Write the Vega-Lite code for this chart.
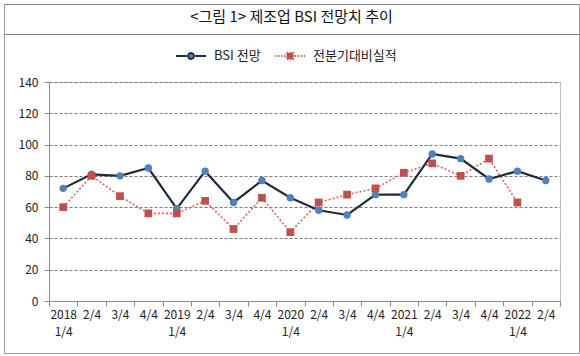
{
  "$schema": "https://vega.github.io/schema/vega-lite/v6.json",
  "padding": {"left": 3, "top": 3, "right": 2, "bottom": 4},
  "background": "white",
  "bounds": "flush",
  "spacing": 48,
  "config": {
    "font": "Noto Sans CJK KR"
  },
  "vconcat": [
    {
      "width": 575,
      "height": 30,
      "view": {"stroke": "#808080"},
      "title": {"text": "<그림 1> 제조업 BSI 전망치 추이", "fontSize": 15, "fontWeight": "normal", "color": "#111111", "anchor": "middle", "frame": "group", "offset": -21},
      "data": {"values": [{"a": 1}]},
      "encoding": {
        "x": {"datum": 0, "type": "quantitative", "scale": {"domain": [0, 1]},
          "axis": {"orient": "bottom", "offset": 319, "ticks": false, "labels": false, "grid": false, "title": null, "domainColor": "#9a9a9a"}},
        "y": {"datum": 0, "type": "quantitative", "scale": {"domain": [0, 1], "range": [349, 0]}}
      },
      "layer": [
        {
          "mark": {"type": "text"},
          "encoding": {
            "text": {"value": ""},
            "y": {"datum": 0, "type": "quantitative", "axis": {"orient": "left", "ticks": false, "labels": false, "grid": false, "title": null, "domainColor": "#9a9a9a"}}
          }
        },
        {
          "mark": {"type": "text"},
          "encoding": {
            "text": {"value": ""},
            "y": {"datum": 0, "type": "quantitative", "axis": {"orient": "right", "ticks": false, "labels": false, "grid": false, "title": null, "domainColor": "#9a9a9a"}}
          }
        }
      ],
      "resolve": {"axis": {"y": "independent"}}
    },
    {
      "bounds": "flush",
      "spacing": 0,
      "hconcat": [
        {
          "width": 45,
          "height": 219,
          "view": {"stroke": null},
          "data": {"values": [{"a": 1}]},
          "mark": {"type": "text"},
          "encoding": {"text": {"value": ""}}
        },
        {
          "width": 511,
          "height": 219,
          "view": {"stroke": "#c0c0c0"},
          "data": {
            "values": [
              {"q": "2018 1/4", "s": "BSI 전망", "v": 72},
              {"q": "2018 2/4", "s": "BSI 전망", "v": 81},
              {"q": "2018 3/4", "s": "BSI 전망", "v": 80},
              {"q": "2018 4/4", "s": "BSI 전망", "v": 85},
              {"q": "2019 1/4", "s": "BSI 전망", "v": 59},
              {"q": "2019 2/4", "s": "BSI 전망", "v": 83},
              {"q": "2019 3/4", "s": "BSI 전망", "v": 63},
              {"q": "2019 4/4", "s": "BSI 전망", "v": 77},
              {"q": "2020 1/4", "s": "BSI 전망", "v": 66},
              {"q": "2020 2/4", "s": "BSI 전망", "v": 58},
              {"q": "2020 3/4", "s": "BSI 전망", "v": 55},
              {"q": "2020 4/4", "s": "BSI 전망", "v": 68},
              {"q": "2021 1/4", "s": "BSI 전망", "v": 68},
              {"q": "2021 2/4", "s": "BSI 전망", "v": 94},
              {"q": "2021 3/4", "s": "BSI 전망", "v": 91},
              {"q": "2021 4/4", "s": "BSI 전망", "v": 78},
              {"q": "2022 1/4", "s": "BSI 전망", "v": 83},
              {"q": "2022 2/4", "s": "BSI 전망", "v": 77},
              {"q": "2018 1/4", "s": "전분기대비실적", "v": 60},
              {"q": "2018 2/4", "s": "전분기대비실적", "v": 80},
              {"q": "2018 3/4", "s": "전분기대비실적", "v": 67},
              {"q": "2018 4/4", "s": "전분기대비실적", "v": 56},
              {"q": "2019 1/4", "s": "전분기대비실적", "v": 56},
              {"q": "2019 2/4", "s": "전분기대비실적", "v": 64},
              {"q": "2019 3/4", "s": "전분기대비실적", "v": 46},
              {"q": "2019 4/4", "s": "전분기대비실적", "v": 66},
              {"q": "2020 1/4", "s": "전분기대비실적", "v": 44},
              {"q": "2020 2/4", "s": "전분기대비실적", "v": 63},
              {"q": "2020 3/4", "s": "전분기대비실적", "v": 68},
              {"q": "2020 4/4", "s": "전분기대비실적", "v": 72},
              {"q": "2021 1/4", "s": "전분기대비실적", "v": 82},
              {"q": "2021 2/4", "s": "전분기대비실적", "v": 88},
              {"q": "2021 3/4", "s": "전분기대비실적", "v": 80},
              {"q": "2021 4/4", "s": "전분기대비실적", "v": 91},
              {"q": "2022 1/4", "s": "전분기대비실적", "v": 63}
            ]
          },
          "encoding": {
            "x": {
              "field": "q",
              "type": "ordinal",
              "sort": null,
              "scale": {"type": "band", "paddingInner": 0, "paddingOuter": 0},
              "axis": {
                "title": null,
                "labelAngle": 0,
                "tickBand": "extent",
                "tickSize": 5,
                "tickColor": "#8a8a8a",
                "domainColor": "#8a8a8a",
                "labelFontSize": 12,
                "labelColor": "#222222",
                "labelPadding": 3,
                "labelLineHeight": 17,
                "labelOverlap": false,
                "labelExpr": "split(datum.value, ' ')[1] == '1/4' ? split(datum.value, ' ') : split(datum.value, ' ')[1]"
              }
            },
            "y": {
              "field": "v",
              "type": "quantitative",
              "scale": {"domain": [0, 140]},
              "axis": {
                "title": null,
                "values": [0, 20, 40, 60, 80, 100, 120, 140],
                "gridDash": [3, 2],
                "gridColor": "#7a7a7a",
                "tickSize": 5,
                "tickColor": "#8a8a8a",
                "domainColor": "#8a8a8a",
                "labelFontSize": 12,
                "labelColor": "#222222",
                "labelPadding": 6
              }
            }
          },
          "layer": [
            {
              "transform": [{"filter": "datum.s == '전분기대비실적'"}],
              "mark": {"type": "line", "color": "#dd6460", "strokeWidth": 1.6, "strokeDash": [2, 2]}
            },
            {
              "transform": [{"filter": "datum.s == 'BSI 전망'"}],
              "mark": {"type": "line", "color": "#1f2b3d", "strokeWidth": 2.2}
            },
            {
              "transform": [{"filter": "datum.s == 'BSI 전망'"}],
              "mark": {"type": "point", "shape": "circle", "filled": true, "opacity": 1, "size": 55, "color": "#4f81bd"}
            },
            {
              "transform": [{"filter": "datum.s == '전분기대비실적'"}],
              "mark": {"type": "point", "shape": "square", "filled": true, "opacity": 1, "size": 60, "color": "#c0504d"}
            },
            {
              "transform": [{"filter": "false"}],
              "mark": {"type": "point", "filled": true, "opacity": 1},
              "encoding": {
                "fill": {
                  "field": "s",
                  "type": "nominal",
                  "scale": {"domain": ["BSI 전망", "전분기대비실적"], "range": ["#4f81bd", "#c0504d"]},
                  "legend": {
                    "title": null,
                    "orient": "none",
                    "legendX": 171,
                    "legendY": 36,
                    "direction": "horizontal",
                    "symbolSize": 900,
                    "symbolStrokeWidth": 1.8,
                    "symbolOpacity": 1,
                    "labelFontSize": 13,
                    "labelColor": "#222222",
                    "labelOffset": 7,
                    "columnPadding": 10,
                    "padding": 0
                  }
                },
                "stroke": {
                  "field": "s",
                  "type": "nominal",
                  "scale": {"domain": ["BSI 전망", "전분기대비실적"], "range": ["#1f2b3d", "#dd6460"]}
                },
                "strokeDash": {
                  "field": "s",
                  "type": "nominal",
                  "scale": {"domain": ["BSI 전망", "전분기대비실적"], "range": [[1, 0], [1.5, 1.5]]}
                },
                "shape": {
                  "field": "s",
                  "type": "nominal",
                  "scale": {"domain": ["BSI 전망", "전분기대비실적"], "range": ["M-1,0H-0.28M0.28,0H1M0.2,0A0.2,0.2,0,1,1,-0.2,0A0.2,0.2,0,1,1,0.2,0", "M-1,0H-0.3M0.3,0H1M-0.22,-0.22H0.22V0.22H-0.22Z"]}
                }
              }
            }
          ]
        }
      ]
    }
  ]
}
